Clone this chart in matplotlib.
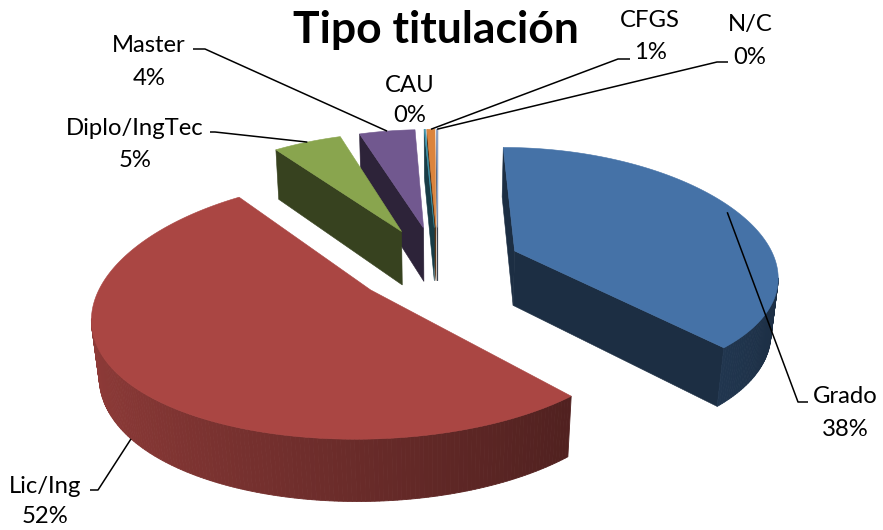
import numpy as np
import matplotlib
matplotlib.use("Agg")
import matplotlib.pyplot as plt
from matplotlib.patches import Polygon
from matplotlib.colors import to_rgb

# ---------------- data ----------------
categories = ["Grado", "Lic/Ing", "Diplo/IngTec", "Master", "CAU", "CFGS", "N/C"]
shares = [38.3, 51.6, 5.1, 4.2, 0.1, 0.6, 0.1]
chart_title = "Tipo titulación"

# ---------------- style ----------------
top_colors = ["#4572A7", "#AA4643", "#89A54E", "#71588F", "#3D96AE", "#DB843D", "#93A9CF"]
FONT = ["Lato", "DejaVu Sans"]

# 3D view parameters (pie radius = 1 unit)
PHI = np.radians(27.0)   # elevation
DIST = 6.5               # camera distance (vertical perspective)
DIST_X = 5.0             # horizontal perspective strength
SCALE_Y = 267.0          # pixels per unit at pie centre (vertical)
SCALE_X = 262.0          # pixels per unit at pie centre (horizontal)
X0, Y0 = 438.0, 264.7    # pixel position of pie centre
EXPLODE = 0.32
HEIGHT = 0.235

# label layout (pixel positions of text and elbow of leader line)
label_layout = {
    "Grado":        dict(x=845, y1=403, y2=436, elbow=[(808, 402), (798, 402)], r=0.96, bottom=False),
    "Lic/Ing":      dict(x=45,  y1=493, y2=523, elbow=[(90, 490), (98, 490)],   r=1.0,  bottom=True),
    "Diplo/IngTec": dict(x=135, y1=135, y2=167, elbow=[(210, 132), (215, 132)], r=1.0,  bottom=False),
    "Master":       dict(x=149, y1=52,  y2=85,  elbow=[(193, 49), (205, 49)],   r=1.0,  bottom=False),
    "CAU":          dict(x=410, y1=92,  y2=122, elbow=None, r=1.0, bottom=False),
    "CFGS":         dict(x=650, y1=27,  y2=59,  elbow=[(630, 59), (618, 59)],   r=1.0,  bottom=False),
    "N/C":          dict(x=750, y1=31,  y2=64,  elbow=[(728, 62), (717, 62)],   r=1.0,  bottom=False),
}

cosp, sinp = np.cos(PHI), np.sin(PHI)
cam = np.array([0.0, -DIST * cosp, DIST * sinp])


def proj(p):
    x, y, z = p
    d = 1.0 + (y * cosp - z * sinp) / DIST
    dx = 1.0 + (y * cosp - z * sinp) / DIST_X
    return (X0 + SCALE_X * x / dx, Y0 - SCALE_Y * (y * sinp + z * cosp) / d)


def depth(p):
    x, y, z = p
    return DIST + y * cosp - z * sinp


def unit(theta):
    t = np.radians(theta)
    return np.array([np.sin(t), np.cos(t), 0.0])


def visible(normal, point):
    return np.dot(normal, cam - point) > 0


def shade(rgb, f):
    return tuple(np.clip(np.array(rgb) * f, 0, 1))


fig = plt.figure(figsize=(8.83, 5.30), dpi=100)
ax = fig.add_axes([0, 0, 1, 1])
ax.set_xlim(0, 883)
ax.set_ylim(530, 0)
ax.axis("off")

total = float(sum(shares))
bounds = np.concatenate([[0.0], np.cumsum(shares)]) / total * 360.0

slices = []
for i, cat in enumerate(categories):
    t1, t2 = bounds[i], bounds[i + 1]
    mid = 0.5 * (t1 + t2)
    apex = EXPLODE * unit(mid)
    slices.append(dict(cat=cat, t1=t1, t2=t2, mid=mid, apex=apex,
                       rgb=to_rgb(top_colors[i])))

# painter's order: farthest slice first
order = sorted(range(len(slices)),
               key=lambda k: -depth(slices[k]["apex"] + 0.6 * unit(slices[k]["mid"])))

down = np.array([0.0, 0.0, -HEIGHT])
z = 3
for k in order:
    s = slices[k]
    apex, t1, t2, rgb = s["apex"], s["t1"], s["t2"], s["rgb"]
    n = max(3, int((t2 - t1) / 0.8) + 2)
    angs = np.linspace(t1, t2, n)
    rim = [apex + unit(a) for a in angs]

    # radial walls
    for th, nrm in ((t1, np.array([-np.cos(np.radians(t1)), np.sin(np.radians(t1)), 0.0])),
                    (t2, np.array([np.cos(np.radians(t2)), -np.sin(np.radians(t2)), 0.0]))):
        pm = apex + 0.5 * unit(th) + 0.5 * down
        if visible(nrm, pm):
            pts = [proj(apex), proj(apex + unit(th)), proj(apex + unit(th) + down), proj(apex + down)]
            c = shade(rgb, 0.40)
            ax.add_patch(Polygon(pts, closed=True, facecolor=c, edgecolor=c, lw=0.4, zorder=z))
    z += 0.01
    # outer curved wall
    for j in range(n - 1):
        am = 0.5 * (angs[j] + angs[j + 1])
        pm = apex + unit(am) + 0.5 * down
        if visible(unit(am), pm):
            pts = [proj(rim[j]), proj(rim[j + 1]), proj(rim[j + 1] + down), proj(rim[j] + down)]
            f = 0.62 - 0.22 * np.sin(np.radians(am))
            c = shade(rgb, f)
            ax.add_patch(Polygon(pts, closed=True, facecolor=c, edgecolor=c, lw=0.6, zorder=z))
    z += 0.01
    # top face
    pts = [proj(apex)] + [proj(p) for p in rim]
    ax.add_patch(Polygon(pts, closed=True, facecolor=rgb, edgecolor=rgb, lw=0.4, zorder=z))
    z += 0.01

# labels and leader lines
for i, s in enumerate(slices):
    lay = label_layout[s["cat"]]
    pct = f"{int(np.floor(shares[i] / total * 100 + 0.5)):d}%"
    ax.text(lay["x"], lay["y1"], s["cat"], ha="center", va="baseline",
            fontsize=17.2, family=FONT, color="black", zorder=20)
    ax.text(lay["x"], lay["y2"], pct, ha="center", va="baseline",
            fontsize=17.2, family=FONT, color="black", zorder=20)
    if lay["elbow"] is not None:
        p = s["apex"] + lay["r"] * unit(s["mid"])
        if lay["bottom"]:
            p = p + down
        ax_, ay_ = proj(p)
        xs = [lay["elbow"][0][0], lay["elbow"][1][0], ax_]
        ys = [lay["elbow"][0][1], lay["elbow"][1][1], ay_]
        ax.plot(xs, ys, color="black", lw=1.1, zorder=15, solid_capstyle="butt")

ax.text(436, 43, chart_title, ha="center", va="baseline", fontsize=32,
        fontweight="bold", family=FONT, color="black", zorder=20)

fig.savefig("out.png", dpi=100)
